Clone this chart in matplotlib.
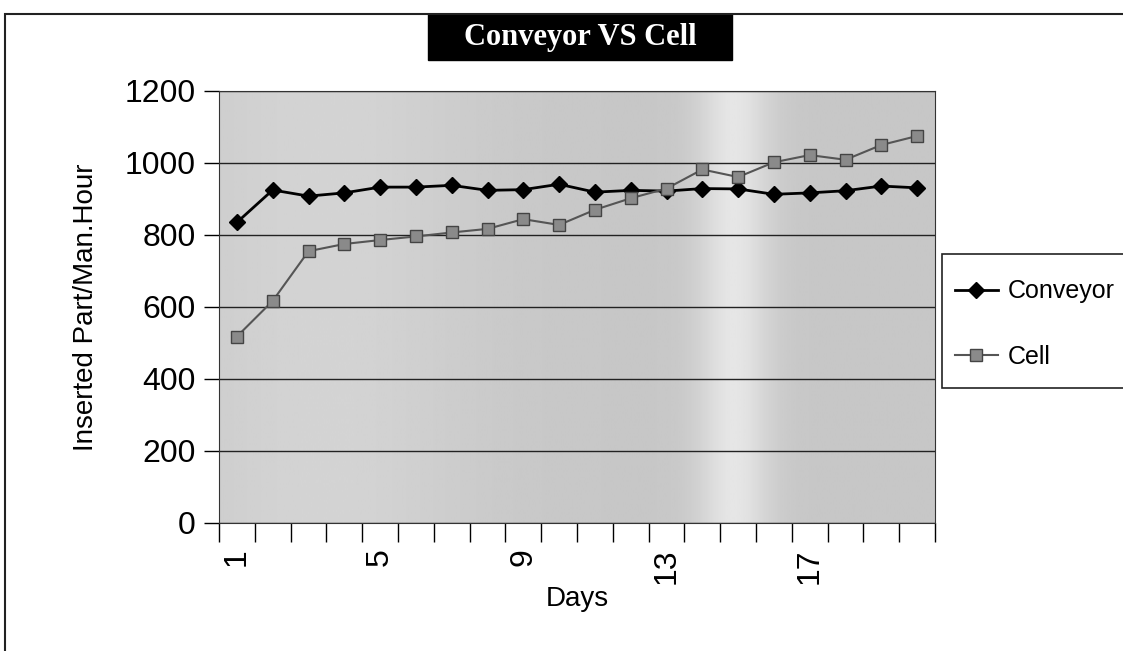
import matplotlib
matplotlib.use('Agg')
import matplotlib.pyplot as plt
import numpy as np
from matplotlib.patches import Rectangle


days = list(range(1, 21))
conveyor = [835, 925, 908, 917, 933, 933, 938, 924, 926, 941,
            919, 924, 922, 929, 928, 913, 917, 923, 936, 931]
cell = [518, 617, 755, 775, 786, 796, 807, 817, 844, 828,
        870, 902, 929, 982, 961, 1002, 1022, 1009, 1050, 1075]
day_labels = [1, 5, 9, 13, 17]


def conveyor_vs_cell():
    plt.rcParams['font.family'] = ['Liberation Sans', 'DejaVu Sans']
    fig = plt.figure(figsize=(11.23, 6.51), dpi=100)
    ax = fig.add_axes([219 / 1123, 1 - 523 / 651, 716 / 1123, 432 / 651])

    # scanned grey plot area with a lighter vertical band
    xs = np.linspace(0, 1, 400)
    shade = 0.78 + 0.05 * np.exp(-((xs - 0.15) / 0.2) ** 2) \
        + 0.12 * np.exp(-((xs - 0.72) / 0.05) ** 2)
    ax.imshow(shade[None, :], cmap='gray', vmin=0, vmax=1, aspect='auto',
              extent=(0, 1, 0, 1), transform=ax.transAxes, zorder=0)

    ax.plot(days, conveyor, 'kD-', lw=2, ms=8, label='Conveyor', zorder=3)
    ax.plot(days, cell, 's-', color='#555555', lw=1.5, ms=9,
            mfc='#8a8a8a', mec='#444444', label='Cell', zorder=3)

    ax.set_xlim(0.5, 20.5)
    ax.set_ylim(0, 1200)
    ax.set_yticks(range(0, 1201, 200))
    ax.yaxis.grid(True, color='#222222', lw=1, zorder=1)

    ax.set_xticks(day_labels)
    ax.set_xticks([d + 0.5 for d in range(0, 21)], minor=True)
    ax.tick_params(axis='x', which='major', length=0, pad=18,
                   labelsize=23, labelrotation=90)
    ax.tick_params(axis='x', which='minor', length=14, width=1, direction='out')
    ax.tick_params(axis='y', length=11, width=1, labelsize=23, pad=6)

    for s in ax.spines.values():
        s.set_color('#333333')
    ax.set_xlabel('Days', fontsize=20, labelpad=2)
    ax.set_ylabel('Inserted Part/Man.Hour', fontsize=20, labelpad=18)

    # title box
    fig.add_artist(Rectangle((428 / 1123, 1 - 60 / 651), 304 / 1123, 46 / 651,
                             transform=fig.transFigure, fc='black', ec='black'))
    fig.text(580 / 1123, 1 - 38 / 651, 'Conveyor VS Cell', ha='center', va='center',
             color='white', fontsize=22, fontweight='bold', family='Liberation Serif')

    # outer chart frame
    fig.add_artist(Rectangle((5 / 1123, -0.01), 1.1, 1 - 14 / 651 + 0.01,
                             transform=fig.transFigure, fill=False,
                             ec='#222222', lw=1.5))

    # legend frame runs off the right edge, as in the scan
    fig.add_artist(Rectangle((942 / 1123, 1 - 388 / 651), 200 / 1123, 134 / 651,
                             transform=fig.transFigure, fc='white',
                             ec='#222222', lw=1.2))
    fig.legend(loc='center left', bbox_to_anchor=(955 / 1123, 1 - 324 / 651),
               fontsize=18, frameon=False, labelspacing=1.65, handlelength=1.7,
               handletextpad=0.4, borderpad=0, borderaxespad=0)

    fig.savefig('out.png', dpi=100)


if __name__ == '__main__':
    conveyor_vs_cell()
